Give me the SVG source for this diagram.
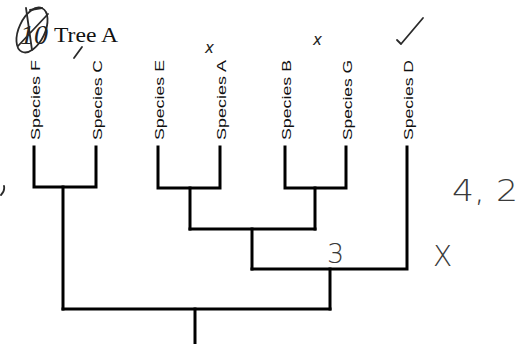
<svg xmlns="http://www.w3.org/2000/svg" width="522" height="344" viewBox="0 0 522 344">
<style>
.sp{font-family:"Liberation Sans",Arial,sans-serif;font-size:13px;fill:#111}
.br{fill:none;stroke:#000;stroke-width:3;stroke-linejoin:miter;stroke-linecap:square}
.hw{font-family:"DejaVu Sans","Liberation Sans",sans-serif;font-weight:300;fill:#3a3a3a}
.pen{fill:none;stroke:#2a2a2a;stroke-width:1.8;stroke-linecap:round;stroke-linejoin:round}
</style>
<rect width="522" height="344" fill="#fff"/>
<g id="title">
<ellipse cx="32" cy="30" rx="13" ry="24" transform="rotate(25 32 30)" class="pen" stroke-width="1.5"/>
<text x="20" y="44" font-family="Liberation Serif,serif" font-style="italic" font-size="28" fill="#222">10</text>
<path class="pen" d="M26 8 L32 50 M18 46 L48 14 M30 10 L42 8"/>
<text x="54" y="42" font-family="Liberation Serif,serif" font-size="21" fill="#111" textLength="64" lengthAdjust="spacingAndGlyphs">Tree A</text>
</g>
<g id="speciesF"><text class="sp" transform="translate(39.5,140) rotate(-90)" textLength="80" lengthAdjust="spacingAndGlyphs">Species F</text></g>
<g id="speciesC"><text class="sp" transform="translate(101.5,140) rotate(-90)" textLength="80" lengthAdjust="spacingAndGlyphs">Species C</text></g>
<g id="speciesE"><text class="sp" transform="translate(163.5,140) rotate(-90)" textLength="80" lengthAdjust="spacingAndGlyphs">Species E</text></g>
<g id="speciesA"><text class="sp" transform="translate(225.5,140) rotate(-90)" textLength="80" lengthAdjust="spacingAndGlyphs">Species A</text></g>
<g id="speciesB"><text class="sp" transform="translate(290.5,140) rotate(-90)" textLength="80" lengthAdjust="spacingAndGlyphs">Species B</text></g>
<g id="speciesG"><text class="sp" transform="translate(351.5,140) rotate(-90)" textLength="80" lengthAdjust="spacingAndGlyphs">Species G</text></g>
<g id="speciesD"><text class="sp" transform="translate(412.5,140) rotate(-90)" textLength="80" lengthAdjust="spacingAndGlyphs">Species D</text></g>
<g id="connectors">
<path class="br" d="M34 147 V187 H96 V147"/>
<path class="br" d="M63 187 V309"/>
<path class="br" d="M158 147 V188 H220 V147"/>
<path class="br" d="M190 188 V229"/>
<path class="br" d="M285 147 V188 H346 V147"/>
<path class="br" d="M315 188 V229"/>
<path class="br" d="M190 229 H315"/>
<path class="br" d="M252 229 V269"/>
<path class="br" d="M407 147 V269 H252"/>
<path class="br" d="M330 269 V309"/>
<path class="br" d="M63 309 H330"/>
<path class="br" d="M195 309 V346"/>
</g>
<g id="marks">
<path class="pen" d="M74 58 L82 47"/>
<text x="205" y="53" font-size="15" font-family="DejaVu Sans,sans-serif" fill="#222" font-style="italic">x</text>
<text x="313" y="45" font-size="15" font-family="DejaVu Sans,sans-serif" fill="#222" font-style="italic">x</text>
<path class="pen" d="M397 40 L401 44 L423 18"/>
<text class="hw" x="327" y="263" font-size="27">3</text>
<text class="hw" x="433" y="266" font-size="28">X</text>
<text class="hw" x="452" y="201" font-size="30" textLength="66" lengthAdjust="spacingAndGlyphs">4, 2</text>
<path class="pen" d="M4 186 Q5 191 1 195"/>
</g>
</svg>
